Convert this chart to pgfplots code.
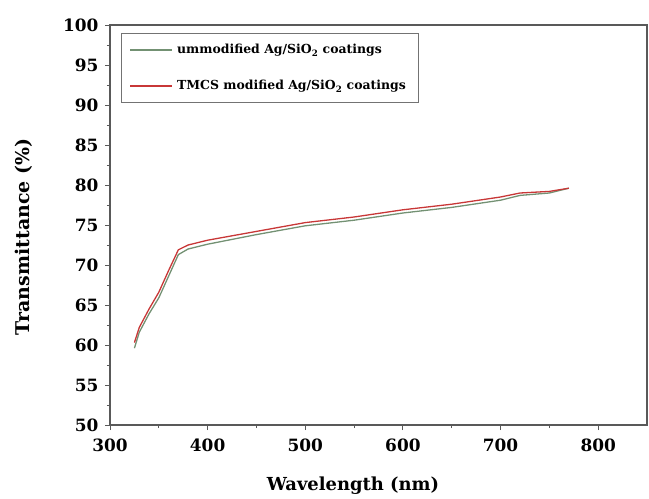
\documentclass[border=0pt]{standalone}
\usepackage{pgfplots}
\pgfplotsset{compat=1.18}
\usepackage{fontspec}
\setmainfont{DejaVu Serif}
\definecolor{gline}{RGB}{115,145,115}
\definecolor{rline}{RGB}{200,55,55}
\begin{document}
\begin{tikzpicture}
\begin{axis}[
  scale only axis,
  width=537bp, height=400bp,
  xmin=300, xmax=850, ymin=50, ymax=100,
  xtick={300,400,...,800}, ytick={50,55,...,100},
  minor x tick num=1, minor y tick num=1,
  xtick pos=left, ytick pos=left,
  tick align=outside,
  major tick length=5bp, minor tick length=3bp,
  axis line style={line width=1.2pt, black!65},
  tick style={black!65, line width=0.9pt},
  /pgf/number format/assume math mode=true,
  ticklabel style={font=\fontsize{17}{19}\selectfont\bfseries},
  xticklabel style={yshift=-5bp},
  yticklabel style={xshift=-3bp},
  xlabel={\bfseries Wavelength (nm)},
  ylabel={\bfseries Transmittance (\%)},
  label style={font=\fontsize{18}{20}\selectfont},
  xlabel style={at={(axis description cs:0.4525,-0.1525)}, anchor=center},
  ylabel style={at={(axis description cs:-0.160,0.47)}, anchor=center, font=\fontsize{19}{21}\selectfont},
  legend style={at={(0.02,0.98)}, anchor=north west, draw=black!55, line width=0.8pt,
    font=\fontsize{12.5}{14}\selectfont\bfseries, row sep=21pt, inner xsep=8pt, inner ysep=9pt,
    nodes={inner xsep=4bp}},
  legend image code/.code={\draw[#1, line width=2pt] (0bp,0bp) -- (42bp,0bp);},
  legend cell align=left,
]
\addplot[draw=gline, line width=1.3pt] coordinates {
(325,59.6) (330,61.6) (340,63.9) (350,65.9) (360,68.6) (370,71.3) (380,72.0) (400,72.6)
(450,73.8) (500,74.9) (550,75.6) (600,76.5) (650,77.2) (700,78.1) (720,78.7) (750,79.0) (770,79.6)};
\addlegendentry{ummodified Ag/SiO\textsubscript{2} coatings}
\addplot[draw=rline, line width=1.3pt] coordinates {
(325,60.3) (330,62.2) (340,64.5) (350,66.6) (360,69.3) (370,71.9) (380,72.5) (400,73.1)
(450,74.2) (500,75.3) (550,76.0) (600,76.9) (650,77.6) (700,78.5) (720,79.0) (750,79.2) (770,79.6)};
\addlegendentry{TMCS modified Ag/SiO\textsubscript{2} coatings}
\end{axis}
\path ([shift={(-110bp,-72bp)}]current axis.south west) rectangle ([shift={(2bp,25bp)}]current axis.north east);
\end{tikzpicture}
\end{document}
